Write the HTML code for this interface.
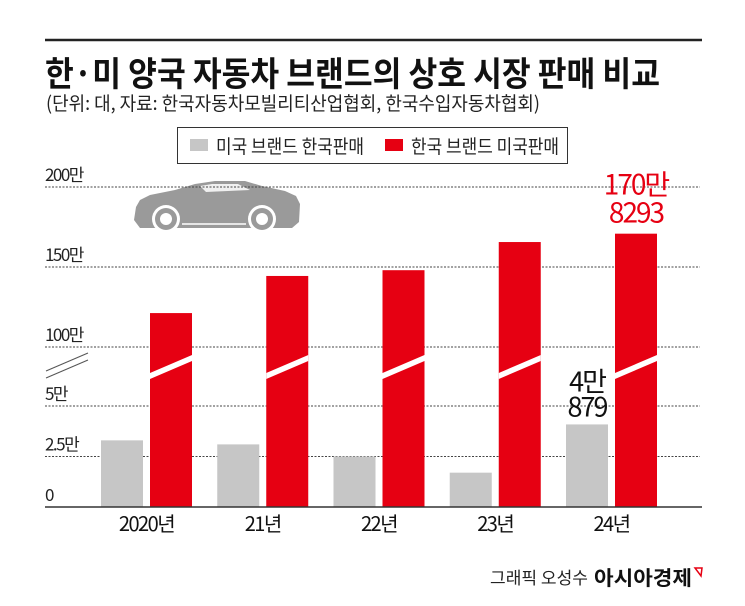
<!DOCTYPE html>
<html><head><meta charset="utf-8">
<style>
html,body{margin:0;padding:0;background:#fff;}
svg{display:block;font-family:"Liberation Sans","Noto Sans CJK KR",sans-serif;}
</style></head>
<body>
<svg id="chart" width="745" height="606" viewBox="0 0 745 606" xmlns="http://www.w3.org/2000/svg">
  <rect width="745" height="606" fill="#fff"/>
  <line x1="45" y1="40" x2="702" y2="40" stroke="#222" stroke-width="2.5"/>
  <text x="45" y="86" font-size="34" font-weight="bold" fill="#111" textLength="615" lengthAdjust="spacingAndGlyphs" font-family="'Noto Sans CJK KR',sans-serif">한·미 양국 자동차 브랜드의 상호 시장 판매 비교</text>
  <text x="46" y="110" font-size="19" fill="#222" textLength="494" lengthAdjust="spacingAndGlyphs" font-family="'Noto Sans CJK KR',sans-serif">(단위: 대, 자료: 한국자동차모빌리티산업협회, 한국수입자동차협회)</text>

  <g>
    <rect x="177.5" y="127.5" width="390" height="36" fill="#fff" stroke="#333" stroke-width="1"/>
    <rect x="190" y="139" width="18" height="12" fill="#c6c6c6"/>
    <text x="216" y="153" font-size="19" fill="#222" textLength="148" lengthAdjust="spacingAndGlyphs" font-family="'Noto Sans CJK KR',sans-serif">미국 브랜드 한국판매</text>
    <rect x="385" y="139" width="18" height="12" fill="#e60012"/>
    <text x="411" y="153" font-size="19" fill="#222" textLength="148" lengthAdjust="spacingAndGlyphs" font-family="'Noto Sans CJK KR',sans-serif">한국 브랜드 미국판매</text>
  </g>

  <g fill="#9a9a9a">
    <path d="M136,207 L140,200 L150,195 L175,190 L195,184 L215,181 L245,181 L262,186 L285,191 L296,196 L300,204 L299,222 L292,228 L140,228 L134,220 Z"/>
    <path d="M200,186 L212,184 L238,184 L250,190 L206,192 Z" fill="#fff" opacity="0.85"/>
    <circle cx="166" cy="219" r="14" fill="#fff"/>
    <circle cx="166" cy="219" r="11"/>
    <circle cx="166" cy="219" r="6" fill="#fff"/>
    <circle cx="262" cy="219" r="14" fill="#fff"/>
    <circle cx="262" cy="219" r="11"/>
    <circle cx="262" cy="219" r="6" fill="#fff"/>
    <path d="M182,224 L246,224" stroke="#fff" stroke-width="1.5"/>
  </g>

  <g id="grid"></g>
  <g id="bars"></g>
  <g id="labels"></g>

  <g stroke="#555" stroke-width="1">
    <line x1="46" y1="371" x2="88" y2="353"/>
    <line x1="46" y1="378" x2="88" y2="360"/>
  </g>

  <text x="490" y="584" font-size="17" fill="#222" textLength="98" lengthAdjust="spacingAndGlyphs" font-family="'Noto Sans CJK KR',sans-serif">그래픽 오성수</text>
  <text x="594" y="585" font-size="20" font-weight="bold" fill="#111" textLength="98" lengthAdjust="spacingAndGlyphs" font-family="'Noto Sans CJK KR',sans-serif">아시아경제</text>
  <path d="M695,568 L702,568 L701,576 Z" fill="none" stroke="#e60012" stroke-width="1.5"/>
</svg>
<script>
// Data
const categories = ["2020년", "21년", "22년", "23년", "24년"];
const usBrandInKorea = [33000, 31000, 25000, 17000, 40879];          // 대
const krBrandInUS = [1212000, 1444000, 1480000, 1656000, 1708293];    // 대
const tickValues = [0, 25000, 50000, 1000000, 1500000, 2000000];
const tickLabels = ["0", "2.5만", "5만", "100만", "150만", "200만"];
const usLabelLines = ["4만", "879"];
const krLabelLines = ["170만", "8293"];

const NS = "http://www.w3.org/2000/svg";
const baseY = 507, lowPx = 101 / 50000;
const upRefY = 347, upRef = 1000000, upPx = 80 / 500000;
function yScale(v) {
  if (v <= 60000) return baseY - v * lowPx;
  return upRefY - (v - upRef) * upPx;
}
const groupX0 = 101, groupStep = 116.25, barW = 42, gap = 7;
function xGray(i) { return groupX0 + i * groupStep; }
function xRed(i) { return xGray(i) + barW + gap; }
function mk(tag, attrs, parent) {
  const e = document.createElementNS(NS, tag);
  for (const k in attrs) e.setAttribute(k, attrs[k]);
  parent.appendChild(e);
  return e;
}
const grid = document.getElementById("grid");
const bars = document.getElementById("bars");
const labels = document.getElementById("labels");

tickValues.forEach((v, i) => {
  const y = yScale(v);
  if (i > 0) {
    const l = mk("line", {x1: 45, x2: 700, y1: y, y2: y, stroke: "#444", "stroke-width": 1, "stroke-dasharray": "2,1.5"}, grid);
    
    
  }
  const t = mk("text", {x: 45, y: y - 6, "font-size": 17, fill: "#222", "font-family": "'Noto Sans CJK KR',sans-serif", "letter-spacing": "-1.5"}, grid);
  t.textContent = tickLabels[i];
  
  
});

categories.forEach((c, i) => {
  const gy = yScale(usBrandInKorea[i]);
  const g = mk("rect", {x: xGray(i), y: gy, width: barW, height: baseY - gy, fill: "#c6c6c6"}, bars);
  
  
  const ry = yScale(krBrandInUS[i]);
  const r = mk("rect", {x: xRed(i), y: ry, width: barW, height: baseY - ry, fill: "#e60012"}, bars);
  
  
  const s = mk("polygon", {points: `${xRed(i)},373 ${xRed(i)+barW},355 ${xRed(i)+barW},361 ${xRed(i)},379`, fill: "#fff"}, bars);
  
  
  const xl = mk("text", {x: xGray(i) + barW + gap / 2, y: 531, "font-size": 20, fill: "#111", "text-anchor": "middle", "font-family": "'Noto Sans CJK KR',sans-serif", "letter-spacing": "-1.5"}, labels);
  xl.textContent = c;
  
  
});

const last = categories.length - 1;
usLabelLines.forEach((txt, k) => {
  const t = mk("text", {x: xGray(last) + barW / 2, y: yScale(usBrandInKorea[last]) - 33 + k * 25, "font-size": 27, fill: "#111", "text-anchor": "middle", "font-family": "'Noto Sans CJK KR',sans-serif", "letter-spacing": "-2"}, labels);
  t.textContent = txt;
  
  
});
krLabelLines.forEach((txt, k) => {
  const t = mk("text", {x: xRed(last) + barW / 2, y: yScale(krBrandInUS[last]) - 39 + k * 28, "font-size": 28, fill: "#e60012", "text-anchor": "middle", "font-family": "'Noto Sans CJK KR',sans-serif", "letter-spacing": "-2"}, labels);
  t.textContent = txt;
  
  
});

const axis = mk("line", {x1: 45, x2: 702, y1: baseY, y2: baseY, stroke: "#333", "stroke-width": 1.5}, labels);


</script>
</body></html>
